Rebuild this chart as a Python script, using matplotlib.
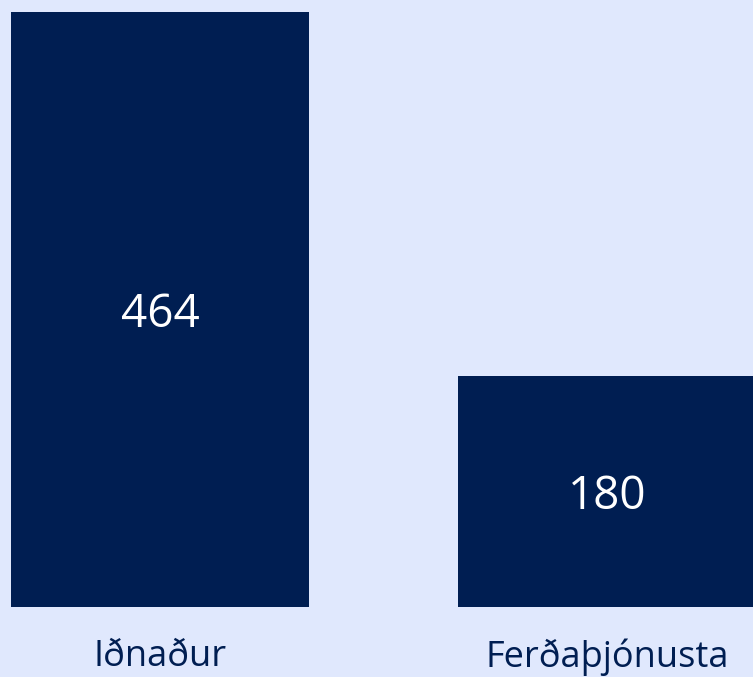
import matplotlib
matplotlib.use("Agg")
import matplotlib.pyplot as plt

plt.rcParams["font.family"] = ["Open Sans", "DejaVu Sans"]

categories = ["Iðnaður", "Ferðaþjónusta"]
values = [464, 180]

BG = "#e0e8fd"
BAR = "#001e52"

fig = plt.figure(figsize=(7.53, 6.77), dpi=100, facecolor=BG)
ax = fig.add_axes([0, 0.1034, 1, 0.8966])
ax.set_facecolor(BG)

x = list(range(len(categories)))
bars = ax.bar(x, values, width=0.667, color=BAR)
# tölurnar inni í miðjum súlum, aðeins neðar en miðja
for xi, v in zip(x, values):
    ax.annotate(str(v), (xi, v / 2), xytext=(0, -4), textcoords="offset points",
                ha="center", va="center", color="white", fontsize=33)

ax.set_xlim(-0.358, 1.327)
ax.set_ylim(0, 473.3)
ax.set_xticks(x)
ax.set_xticklabels(categories, fontsize=26, color="#001e52")
ax.tick_params(axis="x", length=0, pad=23)
ax.set_yticks([])
for s in ax.spines.values():
    s.set_visible(False)

fig.savefig("out.png", dpi=100, facecolor=BG)
